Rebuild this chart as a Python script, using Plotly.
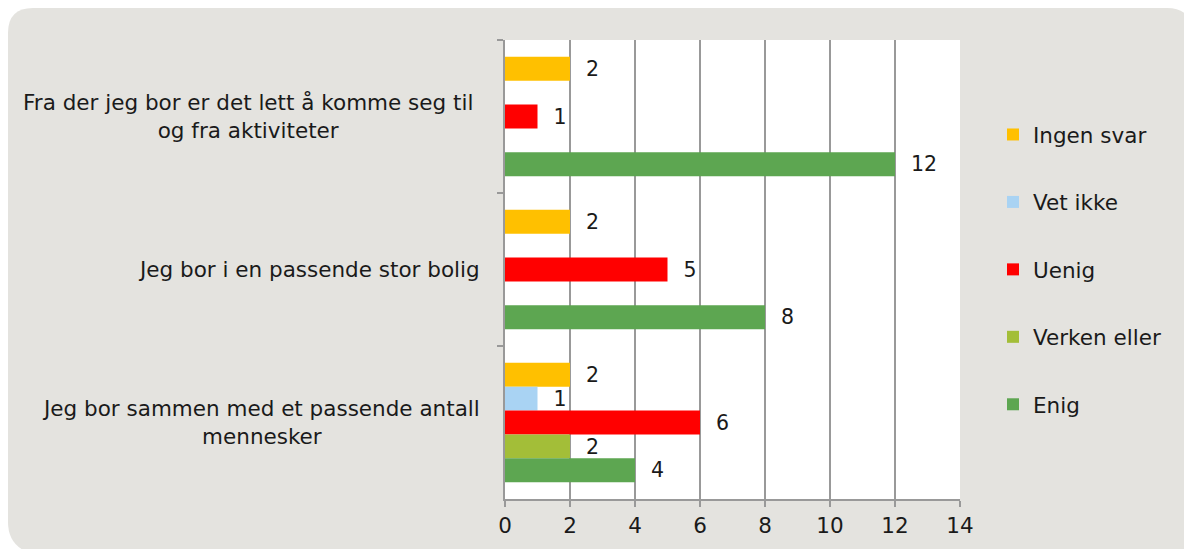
import plotly.graph_objects as go

categories = [
    "Fra der jeg bor er det lett å komme seg til<br>og fra aktiviteter",
    "Jeg bor i en passende stor bolig",
    "Jeg bor sammen med et passende antall<br>mennesker",
]
series_names = ["Ingen svar", "Vet ikke", "Uenig", "Verken eller", "Enig"]
ingen_svar = [2, 2, 2]
vet_ikke = [None, None, 1]
uenig = [1, 5, 6]
verken_eller = [None, None, 2]
enig = [12, 8, 4]
colors = ["#FFC000", "#A9D3F3", "#FF0000", "#A3BE38", "#5DA651"]
x_ticks = [0, 2, 4, 6, 8, 10, 12, 14]

W, H = 1184, 549
ML, MR, MT, MB = 505, 224, 40, 50
PW, PH = W - ML - MR, H - MT - MB

def px(x):
    return (x - ML) / PW

def py(y):
    return (H - MB - y) / PH

FONT = "DejaVu Sans"
FS = 21.5
TXT = "#1a1a1a"

fig = go.Figure()
values = [ingen_svar, vet_ikke, uenig, verken_eller, enig]
for name, vals, col in zip(series_names, values, colors):
    fig.add_trace(go.Bar(
        y=categories, x=vals, name=name, orientation="h",
        marker=dict(color=col, line=dict(width=0)),
        texttemplate="\u00a0\u00a0%{x}", textposition="outside",
        textfont=dict(family=FONT, size=FS, color=TXT),
        cliponaxis=False, legendgroup=name,
    ))

# rounded gray background (bottom-right corner lies off the canvas)
l, t, r, b, rad = 8, 8, 1192, 549, 25
path = (
    f"M {px(l+rad)},{py(t)} L {px(r-rad)},{py(t)} Q {px(r)},{py(t)} {px(r)},{py(t+rad)} "
    f"L {px(r)},{py(b+5)} L {px(l+rad)},{py(b+5)} "
    f"Q {px(l)},{py(b-2)} {px(l)},{py(b-2-rad)} "
    f"L {px(l)},{py(t+rad)} Q {px(l)},{py(t)} {px(l+rad)},{py(t)} Z"
)
fig.add_shape(type="path", path=path, xref="paper", yref="paper",
              fillcolor="#E4E3DF", line=dict(width=0), layer="below")
# white plotting area
fig.add_shape(type="rect", xref="paper", yref="paper", x0=0, x1=1, y0=0, y1=1,
              fillcolor="white", line=dict(width=0), layer="below")

label_shift = [-30, -23, -23]
for c, s in zip(categories, label_shift):
    fig.add_annotation(x=0, xref="paper", y=c, yref="y", text=c,
                       xanchor="right", yanchor="middle", align="center",
                       xshift=s, showarrow=False,
                       font=dict(family=FONT, size=FS, color=TXT))

fig.update_layout(
    width=W, height=H,
    margin=dict(l=ML, r=MR, t=MT, b=MB),
    paper_bgcolor="white", plot_bgcolor="white",
    barmode="group", bargap=0.22, bargroupgap=0,
    font=dict(family=FONT, size=FS, color=TXT),
    legend=dict(x=px(993), xanchor="left", y=py(114), yanchor="top",
                traceorder="grouped", tracegroupgap=36.5,
                bgcolor="rgba(0,0,0,0)",
                font=dict(family=FONT, size=FS, color=TXT)),
    xaxis=dict(range=[0, 14], tickvals=x_ticks, showgrid=True,
               gridcolor="#999999", gridwidth=2, zeroline=False,
               showline=True, linecolor="#999999", linewidth=2,
               ticks="outside", ticklen=6, tickcolor="#999999", tickwidth=2,
               tickfont=dict(family=FONT, size=FS, color=TXT)),
    yaxis=dict(autorange="reversed", showticklabels=False, showgrid=False,
               showline=True, linecolor="#999999", linewidth=2,
               ticks="outside", tickson="boundaries", ticklen=6,
               tickcolor="#999999", tickwidth=2, zeroline=False),
)

fig.write_html("out.html", config={"displayModeBar": False},
               post_script="document.body.style.margin='0';document.body.style.overflow='hidden';")
